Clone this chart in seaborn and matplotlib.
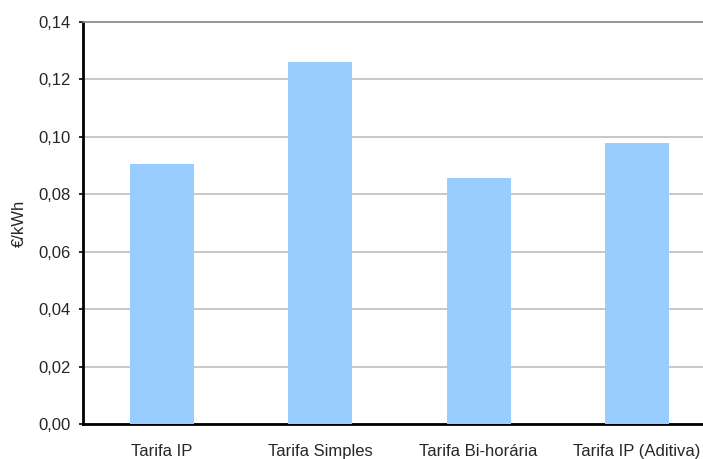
import matplotlib
matplotlib.use("Agg")
import matplotlib.pyplot as plt
from matplotlib.ticker import FixedLocator, FuncFormatter
import seaborn as sns
import pandas as pd

# Tariff categories and their price per kWh
categories = ["Tarifa IP", "Tarifa Simples", "Tarifa Bi-horária", "Tarifa IP (Aditiva)"]
prices = [0.0905, 0.1261, 0.0858, 0.0979]
y_ticks = [0.00, 0.02, 0.04, 0.06, 0.08, 0.10, 0.12, 0.14]

df = pd.DataFrame({"tarifa": categories, "preco": prices})

sns.set_theme(style="white")
plt.rcParams["font.family"] = ["Liberation Sans", "DejaVu Sans"]

fig = plt.figure(figsize=(7.03, 4.59), dpi=100)
ax = fig.add_axes([83 / 703, 35 / 459, 633 / 703, 402 / 459])

sns.barplot(data=df, x="tarifa", y="preco", color="#99CCFF", width=0.405,
            saturation=1, linewidth=0, edgecolor="none", ax=ax, zorder=3)

ax.set_xlim(-0.5, len(categories) - 0.5)
ax.set_ylim(0, 0.14)
ax.set_yticks(y_ticks)
ax.yaxis.set_major_formatter(FuncFormatter(lambda v, p: f"{v:.2f}".replace(".", ",")))
ax.grid(axis="y", color="#c4c4c4", linewidth=1.3, zorder=0)
ax.set_axisbelow(True)

ax.set_xlabel("")
ax.set_ylabel("€/kWh", fontsize=12, labelpad=8)

# category boundaries as tick marks, labels centred below each bar
ax.xaxis.set_minor_locator(FixedLocator([i - 0.5 for i in range(len(categories) + 1)]))
ax.tick_params(axis="x", which="major", length=0, pad=14.5, labelsize=12)
ax.tick_params(axis="x", which="minor", length=3, width=1.2, color="black", direction="out")
ax.tick_params(axis="y", which="major", length=3, width=1.2, color="black",
               direction="out", labelsize=12, pad=6, left=True)

ax.spines["right"].set_visible(False)
ax.spines["top"].set_color("#8a8a8a")
ax.spines["top"].set_linewidth(1.2)
ax.spines["left"].set_color("black")
ax.spines["left"].set_linewidth(2)
ax.spines["bottom"].set_color("black")
ax.spines["bottom"].set_linewidth(2)

fig.savefig("out.png", dpi=100)
